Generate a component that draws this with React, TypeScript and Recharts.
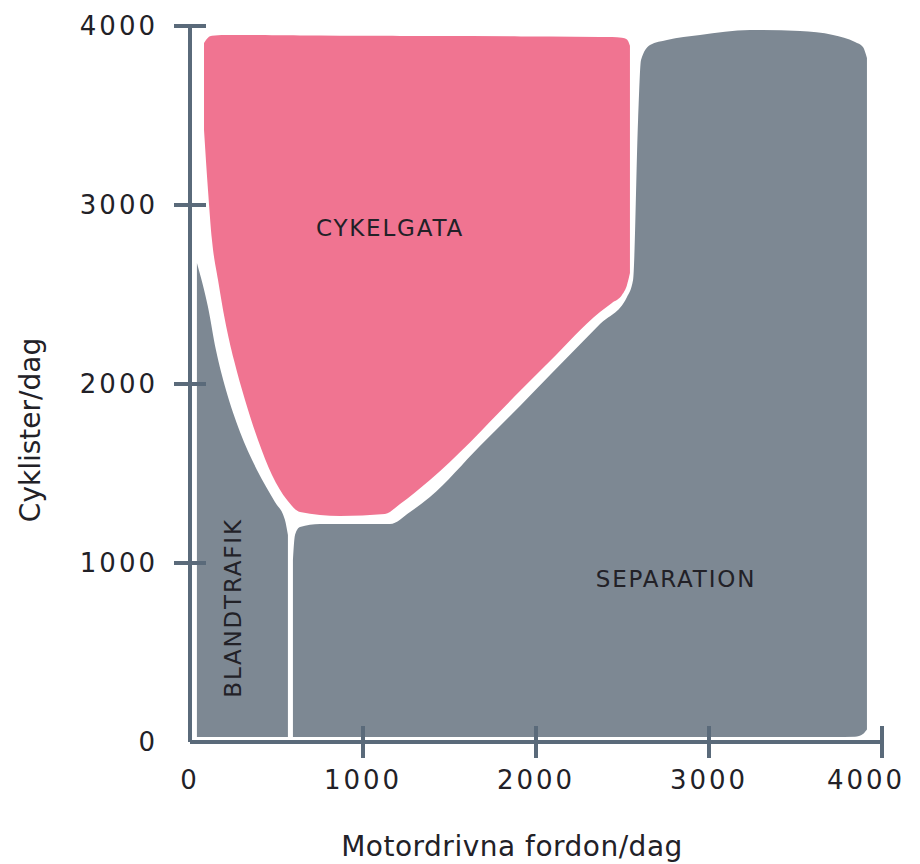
import { Area, ComposedChart, ReferenceDot, XAxis, YAxis } from "recharts";

const PINK = "#f07491";
const GRAY = "#7d8893";
const AXIS = "#5a6a7a";
const INK = "#222127";
const FONT = "'DejaVu Sans', sans-serif";

const xTicks = [0, 1000, 2000, 3000, 4000];
const yTicks = [0, 1000, 2000, 3000, 4000];

// cykelgata (pink) – lower / upper edge per motor-vehicle value
const cykelgataX = [81, 104, 127, 162, 202, 254, 318, 393, 474, 561, 636, 867, 1127, 1214, 1387, 1913, 2081, 2370, 2439, 2497, 2526, 2543];
const cykelgataLow = [3419, 3084, 2804, 2581, 2358, 2134, 1911, 1687, 1492, 1352, 1285, 1263, 1274, 1330, 1464, 1966, 2128, 2402, 2453, 2497, 2553, 2620];
const cykelgataHigh = [3905, 3935, 3945, 3948, 3950, 3950, 3950, 3950, 3949, 3948, 3947, 3946, 3945, 3944, 3944, 3942, 3941, 3939, 3938, 3935, 3925, 3890];

// blandtrafik (narrow grey strip on the left)
const blandX = [40, 104, 150, 208, 289, 387, 491, 549, 566];
const blandLow = [28, 28, 28, 28, 28, 28, 28, 28, 28];
const blandHigh = [2676, 2430, 2190, 1966, 1732, 1520, 1341, 1240, 1156];

// separation (big grey block)
const sepX = [595, 607, 636, 751, 1156, 1272, 1387, 1676, 1913, 2081, 2370, 2526, 2561, 2590, 2607, 2659, 2757, 2948, 3237, 3526, 3717, 3844, 3890, 3913];
const sepLow = [28, 28, 28, 28, 28, 28, 28, 28, 28, 28, 28, 28, 28, 28, 28, 28, 28, 28, 28, 28, 28, 30, 45, 70];
const sepHigh = [1017, 1156, 1201, 1218, 1218, 1285, 1369, 1654, 1883, 2050, 2335, 2486, 2581, 3475, 3810, 3894, 3922, 3950, 3978, 3972, 3950, 3911, 3883, 3821];

const toRange = (xs: number[], lo: number[], hi: number[]) =>
  xs.map((x, i) => ({ x, range: [lo[i], hi[i]] }));

const cykelgata = toRange(cykelgataX, cykelgataLow, cykelgataHigh);
const bland = toRange(blandX, blandLow, blandHigh);
const separation = toRange(sepX, sepLow, sepHigh);

const tickText = { fill: INK, fontSize: 26, fontFamily: FONT, letterSpacing: 3 };

function XTick(props: any) {
  const { x, y, payload, index } = props;
  // the last label sits a little inside the end cap
  const tx = index === xTicks.length - 1 ? x - 16 : x;
  return (
    <g>
      {payload.value !== 0 && <line x1={x} x2={x} y1={y - 16} y2={y + 16} stroke={AXIS} strokeWidth={4} />}
      <text x={tx} y={y + 38} textAnchor="middle" dominantBaseline="central" {...tickText}>
        {payload.value}
      </text>
    </g>
  );
}

function YTick(props: any) {
  const { x, y, payload } = props;
  return (
    <g>
      {payload.value !== 0 && <line x1={x - 16} x2={x + 16} y1={y} y2={y} stroke={AXIS} strokeWidth={4} />}
      <text x={x - 32} y={y} textAnchor="end" dominantBaseline="central" {...tickText}>
        {payload.value}
      </text>
    </g>
  );
}

function XTitle(props: any) {
  const { viewBox } = props;
  return (
    <text
      x={viewBox.x + viewBox.width / 2 - 24}
      y={viewBox.y + 104}
      textAnchor="middle"
      dominantBaseline="central"
      fill={INK}
      fontSize={28}
      fontFamily={FONT}
      letterSpacing={0.5}
    >
      Motordrivna fordon/dag
    </text>
  );
}

function YTitle(props: any) {
  const { viewBox } = props;
  const cx = viewBox.x - 60;
  const cy = viewBox.y + viewBox.height / 2 + 46;
  return (
    <text
      x={cx}
      y={cy}
      transform={`rotate(-90, ${cx}, ${cy})`}
      textAnchor="middle"
      dominantBaseline="central"
      fill={INK}
      fontSize={28}
      fontFamily={FONT}
    >
      Cyklister/dag
    </text>
  );
}

const regionLabel = { position: "center" as const, fill: INK, fontSize: 23, fontFamily: FONT, letterSpacing: 1.8 };

export default function App() {
  return (
    <div style={{ width: 912, height: 856, fontFamily: FONT }}>
      <ComposedChart width={912} height={856} margin={{ top: 18, right: 38, bottom: 62, left: 82 }}>
        <XAxis
          type="number"
          dataKey="x"
          domain={[0, 4000]}
          ticks={xTicks}
          interval={0}
          allowDataOverflow
          height={60}
          axisLine={{ stroke: AXIS, strokeWidth: 4 }}
          tickLine={false}
          tickSize={0}
          tickMargin={0}
          tick={<XTick />}
          label={{ content: XTitle }}
        />
        <YAxis
          type="number"
          domain={[0, 4000]}
          ticks={yTicks}
          interval={0}
          allowDataOverflow
          width={100}
          axisLine={{ stroke: AXIS, strokeWidth: 4 }}
          tickLine={false}
          tickSize={0}
          tickMargin={0}
          tick={<YTick />}
          label={{ content: YTitle }}
        />
        <Area data={cykelgata} dataKey="range" type="monotone" fill={PINK} fillOpacity={1} stroke="none" isAnimationActive={false} />
        <Area data={bland} dataKey="range" type="monotone" fill={GRAY} fillOpacity={1} stroke="none" isAnimationActive={false} />
        <Area data={separation} dataKey="range" type="monotone" fill={GRAY} fillOpacity={1} stroke="none" isAnimationActive={false} />
        <ReferenceDot x={1156} y={2872} r={0} fill="none" stroke="none" label={{ value: "CYKELGATA", ...regionLabel }} />
        <ReferenceDot x={2809} y={911} r={0} fill="none" stroke="none" label={{ value: "SEPARATION", ...regionLabel }} />
        <ReferenceDot x={249} y={749} r={0} fill="none" stroke="none" label={{ value: "BLANDTRAFIK", angle: -90, ...regionLabel }} />
      </ComposedChart>
    </div>
  );
}
